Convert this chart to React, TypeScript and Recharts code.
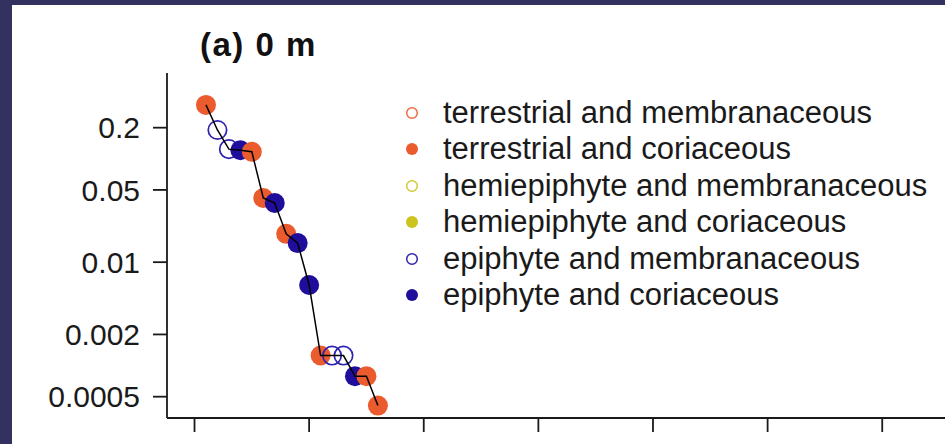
import React from 'react';
import { ComposedChart, Scatter, Line, XAxis, YAxis } from 'recharts';

// species rank vs relative abundance, 0 m plot
const ranks = [1, 2, 3, 4, 5, 6, 7, 8, 9, 10, 11, 12, 13, 14, 15, 16];
const abundances = [
    0.332, 0.19, 0.124, 0.121, 0.117, 0.0418, 0.0374, 0.0188, 0.0153, 0.00602,
    0.00125, 0.00125, 0.00125, 0.00079, 0.00079, 0.00041,
];
const lifeForms = [
    'terrestrial', 'epiphyte', 'epiphyte', 'epiphyte', 'terrestrial', 'terrestrial', 'epiphyte', 'terrestrial',
    'epiphyte', 'epiphyte', 'terrestrial', 'epiphyte', 'epiphyte', 'epiphyte', 'terrestrial', 'terrestrial',
];
const textures = [
    'coriaceous', 'membranaceous', 'membranaceous', 'coriaceous', 'coriaceous', 'coriaceous', 'coriaceous', 'coriaceous',
    'coriaceous', 'coriaceous', 'coriaceous', 'membranaceous', 'membranaceous', 'coriaceous', 'coriaceous', 'coriaceous',
];

const xTicks = [0, 10, 20, 30, 40, 50, 60];
const yTicks = [0.2, 0.05, 0.01, 0.002, 0.0005];

const legendLifeForms = ['terrestrial', 'terrestrial', 'hemiepiphyte', 'hemiepiphyte', 'epiphyte', 'epiphyte'];
const legendTextures = ['membranaceous', 'coriaceous', 'membranaceous', 'coriaceous', 'membranaceous', 'coriaceous'];

const lifeFormColors: Record<string, string> = {
    terrestrial: '#ea5b2d',
    hemiepiphyte: '#cdc31f',
    epiphyte: '#1f0e9b',
};
const openStrokeColors: Record<string, string> = {
    terrestrial: '#ec6a40',
    hemiepiphyte: '#d2ca3a',
    epiphyte: '#2e22b0',
};

const FONT = '"Liberation Sans", Arial, Helvetica, sans-serif';
const INK = '#1a1a1a';

const data = ranks.map((rank, i) => ({
    rank,
    abundance: abundances[i],
    lifeForm: lifeForms[i],
    texture: textures[i],
}));

const PointShape = (props: any) => {
    const { cx, cy, payload } = props;
    if (cx == null || cy == null) return null;
    const filled = payload.texture === 'coriaceous';
    return filled ? (
        <circle cx={cx} cy={cy} r={10} fill={lifeFormColors[payload.lifeForm]} />
    ) : (
        <circle cx={cx} cy={cy} r={9.2} fill="none" stroke={openStrokeColors[payload.lifeForm]} strokeWidth={1.7} />
    );
};

export default function App() {
    return (
        <div
            style={{
                position: 'absolute',
                left: 0,
                top: 0,
                width: 945,
                height: 444,
                overflow: 'hidden',
                background: '#32315f',
            }}
        >
            <div style={{ position: 'absolute', left: 12, top: 5, right: 0, bottom: 0, background: '#fff' }} />

            {/* panel title */}
            <div
                style={{
                    position: 'absolute',
                    left: 200,
                    top: 28,
                    fontFamily: FONT,
                    fontWeight: 'bold',
                    fontSize: 33,
                    lineHeight: '33px',
                    letterSpacing: 1.5,
                    color: '#111',
                    whiteSpace: 'nowrap',
                }}
            >
                (a) 0 m
            </div>

            <div style={{ position: 'absolute', left: 0, top: 0 }}>
                <ComposedChart
                    width={960}
                    height={448}
                    data={data}
                    margin={{ top: 73, right: 9, left: 0, bottom: 0 }}
                >
                    <XAxis
                        type="number"
                        dataKey="rank"
                        domain={[-2.4, 66]}
                        allowDataOverflow
                        ticks={xTicks}
                        interval={0}
                        height={30}
                        tickSize={14}
                        tickFormatter={() => ''}
                        axisLine={{ stroke: INK, strokeWidth: 1.8 }}
                        tickLine={{ stroke: INK, strokeWidth: 1.8 }}
                    />
                    <YAxis
                        type="number"
                        scale="log"
                        dataKey="abundance"
                        domain={[0.000311, 0.676]}
                        allowDataOverflow
                        ticks={yTicks}
                        interval={0}
                        width={167}
                        tickSize={14}
                        tickMargin={13}
                        tickFormatter={(v: number) => String(v)}
                        tick={{ fontSize: 30, fill: INK, fontFamily: FONT }}
                        axisLine={{ stroke: INK, strokeWidth: 1.8 }}
                        tickLine={{ stroke: INK, strokeWidth: 1.8 }}
                    />
                    <Scatter dataKey="abundance" shape={PointShape} isAnimationActive={false} />
                    <Line
                        type="linear"
                        dataKey="abundance"
                        stroke="#000"
                        strokeWidth={1.5}
                        dot={false}
                        activeDot={false}
                        isAnimationActive={false}
                        zIndex={700}
                    />
                </ComposedChart>
            </div>

            {/* legend */}
            <div style={{ position: 'absolute', left: 405, top: 94.5, fontFamily: FONT, color: INK }}>
                {legendLifeForms.map((lf, i) => {
                    const filled = legendTextures[i] === 'coriaceous';
                    return (
                        <div key={i} style={{ height: 36.5, display: 'flex', alignItems: 'center' }}>
                            <svg width={14} height={14} style={{ display: 'block' }}>
                                {filled ? (
                                    <circle cx={7} cy={7} r={6} fill={lifeFormColors[lf]} />
                                ) : (
                                    <circle cx={7} cy={7} r={5.3} fill="none" stroke={openStrokeColors[lf]} strokeWidth={1.5} />
                                )}
                            </svg>
                            <span style={{ marginLeft: 24, fontSize: 31, whiteSpace: 'nowrap' }}>
                                {lf} and {legendTextures[i]}
                            </span>
                        </div>
                    );
                })}
            </div>
        </div>
    );
}
